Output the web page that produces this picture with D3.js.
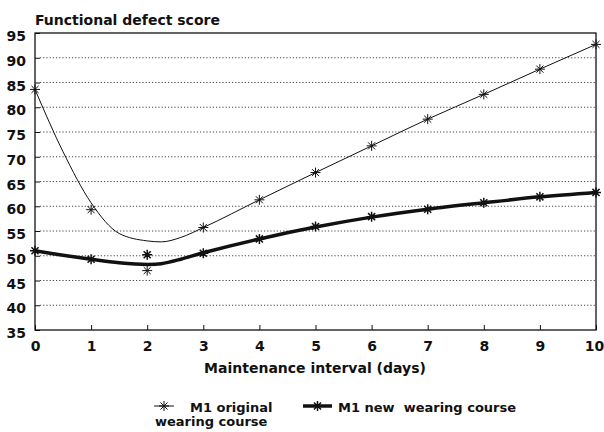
<!DOCTYPE html>
<html>
<head>
<meta charset="utf-8">
<script src="https://cdn.jsdelivr.net/npm/d3@7"></script>
<style>
	body { margin: 0; background: #fff; }
	text { font-family: 'DejaVu Sans', 'Liberation Sans', sans-serif; font-weight: bold; fill: #111; }
</style>
</head>
<body>
<div id="js_chart"></div>
<script>
/*globals d3*/
(function (window) {
	'use strict';

	// measured values, one star per maintenance day
	const days = [0, 1, 2, 3, 4, 5, 6, 7, 8, 9, 10];
	const originalScores = [83.6, 59.3, 47.0, 55.7, 61.3, 66.8, 72.2, 77.6, 82.6, 87.7, 92.7];
	const newScores = [51.0, 49.3, 50.2, 50.5, 53.4, 55.9, 57.9, 59.4, 60.7, 61.9, 62.8];
	// fitted curves
	const fitDays = [0, 0.5, 1, 1.5, 2, 2.25, 2.6, 3, 4, 5, 6, 7, 8, 9, 10];
	const originalFit = [83.6, 71.0, 60.7, 54.5, 53.0, 52.8, 53.7, 55.7, 61.3, 66.8, 72.2, 77.6, 82.6, 87.7, 92.7];
	const newFit = [51.0, 50.1, 49.3, 48.6, 48.25, 48.4, 49.3, 50.6, 53.4, 55.8, 57.8, 59.4, 60.7, 61.9, 62.8];
	const yTicks = [35, 40, 45, 50, 55, 60, 65, 70, 75, 80, 85, 90, 95];
	const gridValues = [40, 45, 50, 55, 60, 65, 70, 75, 80, 85, 90];
	const seriesNames = ['M1 original', 'M1 new  wearing course'];

	const width = 604;
	const height = 432;
	const plot = { left: 35, right: 596, top: 33, bottom: 330 };
	const ink = '#111';
	const starR = 5;

	let svg = d3.select('#js_chart').append('svg')
		.attr('width', width)
		.attr('height', height);

	let xScale = d3.scaleLinear().domain([0, 10]).range([plot.left, plot.right]);
	let yScale = d3.scaleLinear().domain([35, 95]).range([plot.bottom, plot.top]);

	function starPath(cx, cy, r) {
		let d = '';
		for (let i = 0; i < 4; i++) {
			let a = i * Math.PI / 4;
			let dx = r * Math.cos(a);
			let dy = r * Math.sin(a);
			d += 'M' + (cx - dx) + ',' + (cy - dy) + 'L' + (cx + dx) + ',' + (cy + dy);
		}
		return d;
	}

	function drawGrid() {
		svg.append('g').selectAll('line')
			.data(gridValues).enter().append('line')
			.attr('x1', plot.left + 5)
			.attr('x2', plot.right)
			.attr('y1', function (d) { return yScale(d); })
			.attr('y2', function (d) { return yScale(d); })
			.style('stroke', '#444')
			.style('stroke-width', 1)
			.style('stroke-dasharray', '1.2,2');
	}

	function drawAxes() {
		let _xAxis = svg.append('g')
			.attr('transform', 'translate(0,' + plot.bottom + ')')
			.call(d3.axisBottom(xScale).tickValues(days).tickSize(-5).tickPadding(11).tickSizeOuter(0));
		_xAxis.select('.domain').remove();
		_xAxis.selectAll('line').style('stroke', ink);
		_xAxis.selectAll('text').style('font-size', '14px').attr('fill', ink);
		// last label sits a little left, as in the print
		_xAxis.selectAll('text').filter(function (d) { return d === 10; }).attr('x', -2);

		let _yAxis = svg.append('g')
			.attr('transform', 'translate(' + plot.left + ',0)')
			.call(d3.axisLeft(yScale).tickValues(yTicks).tickSize(-5).tickPadding(9).tickSizeOuter(0));
		_yAxis.select('.domain').remove();
		_yAxis.selectAll('line').style('stroke', ink);
		_yAxis.selectAll('text').style('font-size', '14px').attr('dy', '0.55em').attr('fill', ink);

		// frame
		svg.append('rect')
			.attr('x', plot.left)
			.attr('y', plot.top)
			.attr('width', plot.right - plot.left)
			.attr('height', plot.bottom - plot.top)
			.style('fill', 'none')
			.style('stroke', ink)
			.style('stroke-width', 1.3);

		svg.append('text')
			.attr('x', plot.left)
			.attr('y', 25)
			.style('font-size', '14px')
			.text('Functional defect score');

		svg.append('text')
			.attr('x', 315)
			.attr('y', 373)
			.attr('text-anchor', 'middle')
			.style('font-size', '14px')
			.text('Maintenance interval (days)');
	}

	function drawSeries(fit, scores, lineWt, starWt, curve) {
		let _line = d3.line()
			.x(function (d, i) { return xScale(fitDays[i]); })
			.y(function (d) { return yScale(d); })
			.curve(curve);
		svg.append('path')
			.datum(fit)
			.attr('d', _line)
			.style('fill', 'none')
			.style('stroke', ink)
			.style('stroke-width', lineWt)
			.style('stroke-linejoin', 'round');
		svg.append('g').selectAll('path')
			.data(scores).enter().append('path')
			.attr('d', function (d, i) { return starPath(xScale(days[i]), yScale(d), starR); })
			.style('stroke', ink)
			.style('stroke-width', starWt);
	}

	function drawLegend() {
		let _items = [
			{ x1: 154, x2: 174, wt: 1, starWt: 1, tx: 190, name: seriesNames[0] },
			{ x1: 303, x2: 332, wt: 3.5, starWt: 1.5, tx: 338, name: seriesNames[1] }
		];
		const _ly = 406;
		_items.forEach(function (it) {
			svg.append('line')
				.attr('x1', it.x1).attr('x2', it.x2)
				.attr('y1', _ly).attr('y2', _ly)
				.style('stroke', ink)
				.style('stroke-width', it.wt);
			svg.append('path')
				.attr('d', starPath((it.x1 + it.x2) / 2, _ly, starR))
				.style('stroke', ink)
				.style('stroke-width', it.starWt);
			svg.append('text')
				.attr('x', it.tx)
				.attr('y', 412)
				.style('font-size', '13px')
				.style('white-space', 'pre')
				.text(it.name);
		});
		svg.append('text')
			.attr('x', 155)
			.attr('y', 426)
			.style('font-size', '13px')
			.text('wearing course');
	}

	drawGrid();
	drawAxes();
	drawSeries(originalFit, originalScores, 1, 1, d3.curveMonotoneX);
	drawSeries(newFit, newScores, 3.5, 1.5, d3.curveCatmullRom.alpha(0.5));
	drawLegend();
})(window);
</script>
</body>
</html>
